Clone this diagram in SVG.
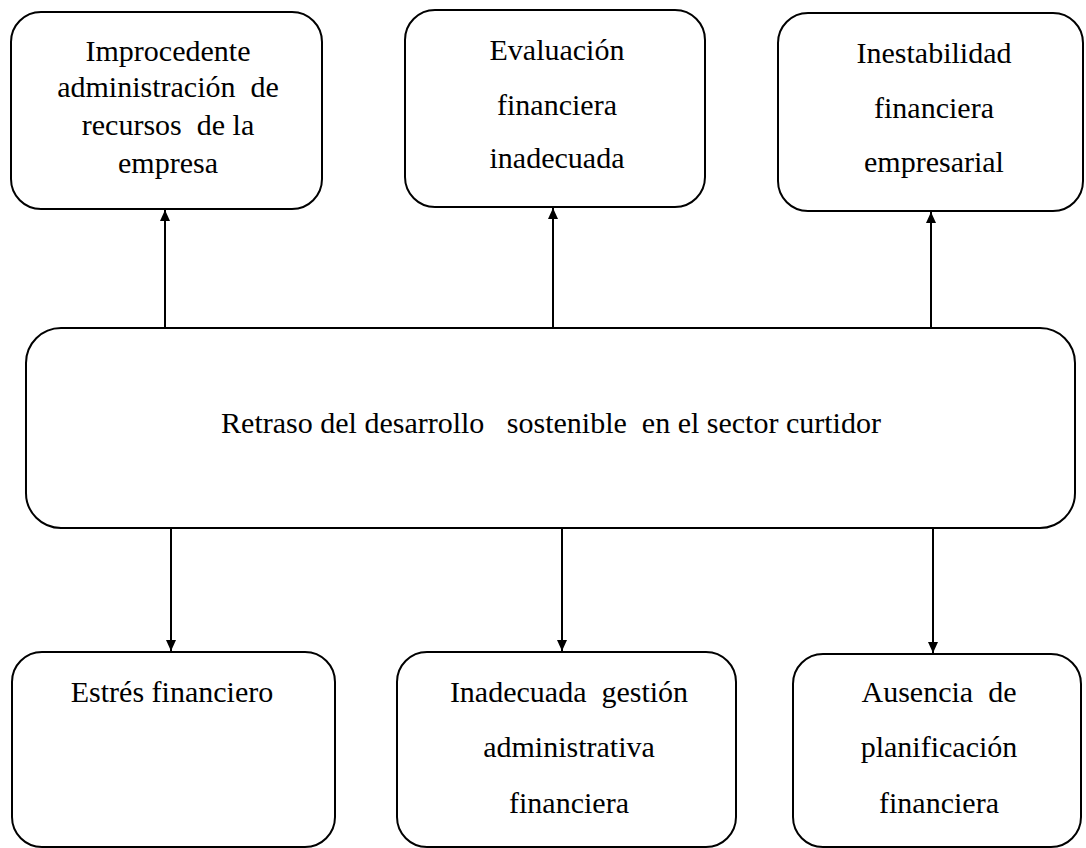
<svg xmlns="http://www.w3.org/2000/svg" width="1086" height="848" viewBox="0 0 1086 848">
<style>
.box{fill:#fff;stroke:#000;stroke-width:2}
.lbl{font-family:"Liberation Serif","Times New Roman",serif;font-size:30px;fill:#000;text-anchor:middle;white-space:pre}
.con{stroke:#000;stroke-width:2;fill:none;marker-end:url(#arr)}
</style>
<defs>
<marker id="arr" markerWidth="11" markerHeight="10" refX="11" refY="5" orient="auto" markerUnits="userSpaceOnUse">
<path d="M0,0 L11,5 L0,10 z" fill="#000"/>
</marker>
</defs>
<rect width="1086" height="848" fill="#fff"/>
<g id="connectors">
<line class="con" x1="165" y1="328" x2="165" y2="210"/>
<line class="con" x1="553" y1="328" x2="553" y2="208"/>
<line class="con" x1="931" y1="328" x2="931" y2="212"/>
<line class="con" x1="171" y1="528" x2="171" y2="651"/>
<line class="con" x1="562" y1="528" x2="562" y2="651"/>
<line class="con" x1="933" y1="528" x2="933" y2="653"/>
</g>
<g id="n1">
<rect class="box" x="11" y="12" width="311" height="197" rx="30"/>
<text class="lbl"><tspan x="168" y="61">Improcedente</tspan><tspan x="168" y="97">administración  de</tspan><tspan x="168" y="135">recursos  de la</tspan><tspan x="168" y="173">empresa</tspan></text>
</g>
<g id="n2">
<rect class="box" x="405" y="10" width="300" height="197" rx="30"/>
<text class="lbl"><tspan x="557" y="60">Evaluación</tspan><tspan x="557" y="115">financiera</tspan><tspan x="557" y="168">inadecuada</tspan></text>
</g>
<g id="n3">
<rect class="box" x="778" y="13" width="305" height="198" rx="30"/>
<text class="lbl"><tspan x="934" y="63">Inestabilidad</tspan><tspan x="934" y="118">financiera</tspan><tspan x="934" y="172">empresarial</tspan></text>
</g>
<g id="center">
<rect class="box" x="26" y="328" width="1049" height="200" rx="35"/>
<text class="lbl" x="551" y="433">Retraso del desarrollo   sostenible  en el sector curtidor</text>
</g>
<g id="n4">
<rect class="box" x="12" y="652" width="323" height="195" rx="30"/>
<text class="lbl" x="172" y="702">Estrés financiero</text>
</g>
<g id="n5">
<rect class="box" x="397" y="652" width="339" height="195" rx="30"/>
<text class="lbl"><tspan x="569" y="702">Inadecuada  gestión</tspan><tspan x="569" y="757">administrativa</tspan><tspan x="569" y="813">financiera</tspan></text>
</g>
<g id="n6">
<rect class="box" x="793" y="654" width="288" height="193" rx="30"/>
<text class="lbl"><tspan x="939" y="702">Ausencia  de</tspan><tspan x="939" y="757">planificación</tspan><tspan x="939" y="813">financiera</tspan></text>
</g>
</svg>
